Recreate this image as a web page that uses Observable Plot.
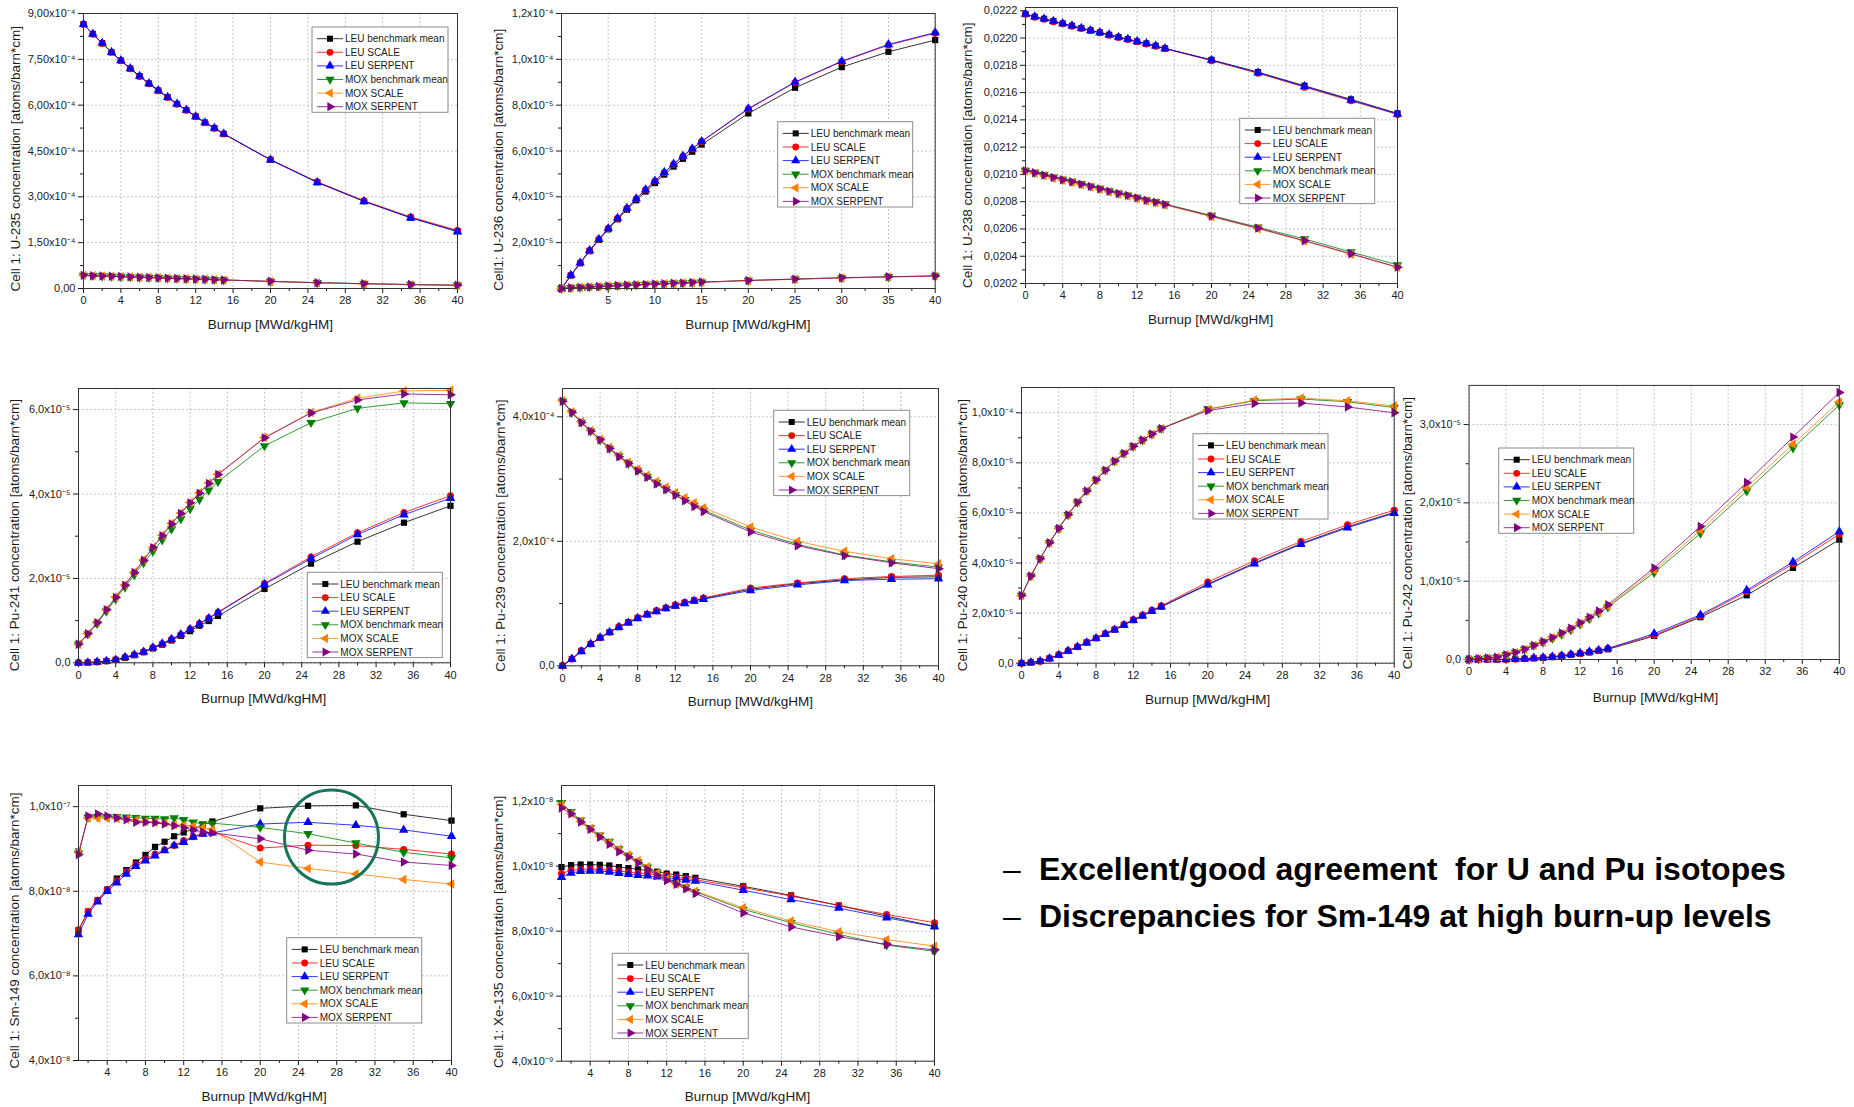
<!DOCTYPE html>
<html><head><meta charset="utf-8">
<script src="https://cdn.jsdelivr.net/npm/d3@7"></script>
<script src="https://cdn.jsdelivr.net/npm/@observablehq/plot@0.6"></script>
<style>
body{margin:0;background:#fff;}
#page{position:relative;width:1854px;height:1107px;overflow:hidden;background:#fff;font-family:"Liberation Sans",Arial,sans-serif;}
.panel{position:absolute;}
</style></head><body><div id="page"></div>
<script>
// ---------- shared data ----------
const burnup = [0,1,2,3,4,5,6,7,8,9,10,11,12,13,14,15,20,25,30,35,40];
const burnupFrom1 = [1,2,3,4,5,6,7,8,9,10,11,12,13,14,15,20,25,30,35,40];
const seriesNames = ["LEU benchmark mean","LEU SCALE","LEU SERPENT","MOX benchmark mean","MOX SCALE","MOX SERPENT"];
const seriesColors = ["#000000","#ff0000","#0000ff","#008000","#ff8000","#800080"];
const xLabel = "Burnup [MWd/kgHM]";

// U-235 (x1e-4)
const U235_LEU_BENCH = [8.65,8.33,8.03,7.73,7.46,7.20,6.95,6.71,6.48,6.26,6.04,5.84,5.63,5.43,5.25,5.06,4.21,3.48,2.86,2.32,1.88];
const U235_LEU_SCALE = [8.65,8.32,8.02,7.73,7.45,7.19,6.94,6.70,6.47,6.25,6.03,5.83,5.62,5.43,5.24,5.06,4.22,3.49,2.87,2.34,1.90];
const U235_LEU_SERPENT = [8.65,8.33,8.03,7.73,7.46,7.20,6.95,6.71,6.48,6.26,6.04,5.84,5.63,5.43,5.25,5.06,4.21,3.47,2.85,2.31,1.86];
const U235_MOX_BENCH = [0.43,0.42,0.41,0.40,0.39,0.38,0.37,0.36,0.35,0.34,0.33,0.32,0.31,0.30,0.29,0.28,0.23,0.19,0.155,0.13,0.105];
const U235_MOX_SCALE = [0.43,0.42,0.41,0.40,0.39,0.38,0.37,0.36,0.35,0.34,0.33,0.32,0.31,0.30,0.29,0.28,0.23,0.185,0.15,0.125,0.10];
const U235_MOX_SERPENT = [0.43,0.42,0.41,0.40,0.39,0.38,0.37,0.36,0.35,0.34,0.33,0.32,0.31,0.30,0.29,0.28,0.235,0.19,0.16,0.13,0.11];

// U-236 (x1e-5)
const U236_LEU_BENCH = [0,0.57,1.10,1.63,2.12,2.58,3.02,3.44,3.85,4.23,4.60,4.97,5.32,5.66,5.97,6.28,7.64,8.76,9.66,10.33,10.84];
const U236_LEU_SCALE = [0,0.58,1.12,1.66,2.15,2.62,3.07,3.50,3.92,4.31,4.69,5.06,5.42,5.77,6.09,6.41,7.83,8.99,9.90,10.62,11.14];
const U236_LEU_SERPENT = [0,0.58,1.12,1.66,2.15,2.62,3.07,3.50,3.92,4.31,4.69,5.07,5.43,5.78,6.10,6.42,7.85,9.01,9.92,10.65,11.17];
const U236_MOX_BENCH = [0,0.03,0.05,0.07,0.09,0.11,0.13,0.14,0.16,0.18,0.19,0.21,0.23,0.24,0.26,0.27,0.35,0.41,0.46,0.51,0.55];
const U236_MOX_SCALE = [0,0.03,0.05,0.07,0.09,0.11,0.12,0.14,0.16,0.17,0.19,0.21,0.22,0.24,0.25,0.27,0.34,0.40,0.46,0.50,0.54];
const U236_MOX_SERPENT = [0,0.03,0.05,0.07,0.09,0.11,0.13,0.15,0.16,0.18,0.20,0.21,0.23,0.24,0.26,0.28,0.35,0.41,0.47,0.51,0.55];

// U-238 (atoms/barn*cm)
const U238_LEU_BENCH = [0.022176,0.022156,0.022141,0.022124,0.022107,0.022090,0.022073,0.022056,0.022041,0.022024,0.022007,0.021992,0.021975,0.021960,0.021943,0.021924,0.021840,0.021750,0.021650,0.021550,0.021448];
const U238_LEU_SCALE = [0.022174,0.022152,0.022138,0.022120,0.022104,0.022087,0.022070,0.022053,0.022038,0.022021,0.022004,0.021989,0.021972,0.021957,0.021940,0.021922,0.021834,0.021742,0.021640,0.021540,0.021440];
const U238_LEU_SERPENT = [0.022176,0.022156,0.022141,0.022124,0.022107,0.022090,0.022073,0.022056,0.022041,0.022024,0.022007,0.021992,0.021975,0.021960,0.021943,0.021924,0.021838,0.021746,0.021645,0.021545,0.021443];
const U238_MOX_BENCH = [0.021028,0.021014,0.020997,0.020980,0.020963,0.020948,0.020931,0.020914,0.020896,0.020879,0.020862,0.020848,0.020830,0.020813,0.020799,0.020783,0.020698,0.020612,0.020527,0.020431,0.020336];
const U238_MOX_SCALE = [0.021024,0.021008,0.020991,0.020974,0.020957,0.020942,0.020925,0.020908,0.020890,0.020873,0.020856,0.020842,0.020824,0.020807,0.020793,0.020776,0.020690,0.020602,0.020511,0.020415,0.020318];
const U238_MOX_SERPENT = [0.021026,0.021012,0.020995,0.020978,0.020961,0.020946,0.020929,0.020912,0.020894,0.020877,0.020860,0.020846,0.020828,0.020811,0.020797,0.020780,0.020694,0.020606,0.020514,0.020418,0.020320];

// Pu-241 (x1e-5)
const PU241_LEU_BENCH = [0,0.005,0.02,0.04,0.07,0.12,0.18,0.25,0.34,0.43,0.53,0.64,0.75,0.88,0.99,1.11,1.75,2.35,2.87,3.32,3.72];
const PU241_LEU_SCALE = [0,0.005,0.02,0.04,0.07,0.13,0.19,0.26,0.36,0.45,0.56,0.67,0.80,0.93,1.06,1.20,1.88,2.51,3.08,3.56,3.96];
const PU241_LEU_SERPENT = [0,0.005,0.02,0.04,0.07,0.13,0.19,0.26,0.36,0.45,0.56,0.67,0.79,0.92,1.05,1.19,1.86,2.47,3.04,3.51,3.90];
const PU241_MOX_BENCH = [0.44,0.68,0.93,1.22,1.51,1.79,2.08,2.37,2.64,2.91,3.17,3.41,3.65,3.87,4.09,4.29,5.14,5.69,6.03,6.16,6.14];
const PU241_MOX_SCALE = [0.44,0.69,0.95,1.26,1.56,1.85,2.15,2.44,2.74,3.02,3.30,3.55,3.80,4.03,4.26,4.47,5.34,5.93,6.27,6.44,6.46];
const PU241_MOX_SERPENT = [0.44,0.69,0.95,1.26,1.55,1.84,2.14,2.43,2.73,3.01,3.29,3.54,3.79,4.02,4.25,4.46,5.33,5.92,6.23,6.37,6.35];

// Pu-239 (x1e-4)
const PU239_LEU_BENCH = [0,0.11,0.24,0.35,0.45,0.54,0.62,0.70,0.77,0.83,0.88,0.93,0.97,1.01,1.05,1.08,1.23,1.32,1.38,1.42,1.43];
const PU239_LEU_SCALE = [0,0.11,0.24,0.35,0.45,0.54,0.63,0.70,0.77,0.83,0.89,0.93,0.98,1.02,1.05,1.09,1.25,1.33,1.40,1.435,1.455];
const PU239_LEU_SERPENT = [0,0.11,0.23,0.35,0.45,0.54,0.62,0.69,0.76,0.82,0.87,0.92,0.96,1.00,1.04,1.07,1.21,1.30,1.37,1.39,1.40];
const PU239_MOX_BENCH = [4.25,4.07,3.91,3.77,3.63,3.49,3.37,3.25,3.14,3.04,2.94,2.84,2.75,2.67,2.58,2.50,2.18,1.95,1.78,1.67,1.585];
const PU239_MOX_SCALE = [4.26,4.08,3.92,3.78,3.64,3.51,3.38,3.27,3.16,3.06,2.96,2.87,2.78,2.70,2.62,2.54,2.23,2.00,1.84,1.72,1.64];
const PU239_MOX_SERPENT = [4.25,4.07,3.91,3.77,3.63,3.49,3.36,3.25,3.13,3.03,2.92,2.83,2.74,2.65,2.56,2.48,2.15,1.93,1.77,1.655,1.56];

// Pu-240 (x1e-5)
const PU240_LEU_BENCH = [0,0.03,0.08,0.19,0.33,0.49,0.65,0.83,1.00,1.17,1.34,1.53,1.72,1.90,2.09,2.26,3.16,4.00,4.78,5.45,6.02];
const PU240_LEU_SCALE = [0,0.03,0.08,0.19,0.34,0.50,0.66,0.84,1.01,1.19,1.36,1.55,1.74,1.92,2.11,2.29,3.24,4.09,4.86,5.53,6.11];
const PU240_LEU_SERPENT = [0,0.03,0.08,0.19,0.33,0.49,0.65,0.82,0.99,1.16,1.33,1.52,1.71,1.89,2.08,2.25,3.13,3.97,4.75,5.41,5.99];
const PU240_MOX_BENCH = [2.70,3.48,4.17,4.81,5.38,5.93,6.43,6.88,7.32,7.71,8.07,8.38,8.66,8.91,9.15,9.37,10.15,10.48,10.55,10.44,10.21];
const PU240_MOX_SCALE = [2.70,3.48,4.17,4.81,5.38,5.93,6.43,6.88,7.31,7.70,8.06,8.37,8.65,8.90,9.14,9.36,10.13,10.51,10.59,10.48,10.27];
const PU240_MOX_SERPENT = [2.70,3.48,4.17,4.81,5.38,5.93,6.43,6.88,7.32,7.71,8.07,8.38,8.66,8.91,9.15,9.37,10.09,10.37,10.39,10.23,10.00];

// Pu-242 (x1e-5)
const PU242_LEU_BENCH = [0,0,0,0,0,0.005,0.01,0.015,0.02,0.03,0.045,0.06,0.075,0.09,0.11,0.13,0.30,0.54,0.82,1.17,1.53];
const PU242_LEU_SCALE = [0,0,0,0,0,0.005,0.01,0.02,0.025,0.035,0.05,0.065,0.08,0.095,0.115,0.14,0.31,0.555,0.865,1.22,1.60];
const PU242_LEU_SERPENT = [0,0,0,0,0.002,0.005,0.01,0.02,0.025,0.035,0.05,0.065,0.08,0.10,0.12,0.14,0.33,0.57,0.885,1.245,1.635];
const PU242_MOX_BENCH = [0,0.01,0.02,0.03,0.06,0.09,0.13,0.18,0.22,0.27,0.32,0.38,0.45,0.52,0.59,0.67,1.11,1.61,2.15,2.70,3.25];
const PU242_MOX_SCALE = [0,0.01,0.02,0.03,0.06,0.09,0.13,0.18,0.22,0.28,0.33,0.39,0.46,0.53,0.60,0.68,1.14,1.65,2.20,2.75,3.29];
const PU242_MOX_SERPENT = [0,0.01,0.02,0.03,0.06,0.09,0.13,0.18,0.23,0.28,0.34,0.40,0.47,0.54,0.62,0.70,1.17,1.70,2.26,2.84,3.41];

// Sm-149 (x1e-8), burnup from 1
const SM149_LEU_BENCH = [7.08,7.52,7.79,8.04,8.30,8.50,8.68,8.86,9.05,9.17,9.30,9.39,9.47,9.57,9.65,9.96,10.02,10.03,9.82,9.67];
const SM149_LEU_SCALE = [7.09,7.52,7.79,8.04,8.25,8.46,8.63,8.76,8.88,8.98,9.08,9.20,9.29,9.37,9.40,9.02,9.09,9.08,8.99,8.88];
const SM149_LEU_SERPENT = [6.98,7.46,7.75,8.00,8.20,8.41,8.59,8.72,8.84,8.96,9.08,9.16,9.28,9.35,9.38,9.59,9.63,9.56,9.45,9.30];
const SM149_MOX_BENCH = [8.90,9.75,9.76,9.76,9.76,9.75,9.74,9.72,9.72,9.71,9.73,9.69,9.63,9.59,9.61,9.51,9.36,9.14,8.92,8.79];
const SM149_MOX_SCALE = [8.92,9.73,9.73,9.73,9.72,9.70,9.68,9.65,9.63,9.61,9.57,9.56,9.54,9.50,9.46,8.69,8.54,8.41,8.28,8.17];
const SM149_MOX_SERPENT = [8.87,9.78,9.83,9.78,9.73,9.69,9.63,9.63,9.62,9.59,9.55,9.50,9.45,9.40,9.38,9.24,8.97,8.88,8.69,8.61];
const SM149_HIGHLIGHT = [{x: 27.45, y: 9.28}];

// Xe-135 (x1e-9), burnup from 1
const XE135_LEU_BENCH = [9.97,10.03,10.05,10.05,10.04,10.02,9.97,9.94,9.90,9.87,9.83,9.77,9.74,9.69,9.64,9.38,9.10,8.79,8.46,8.15];
const XE135_LEU_SCALE = [9.77,9.87,9.90,9.91,9.90,9.87,9.85,9.82,9.78,9.76,9.74,9.71,9.66,9.62,9.58,9.34,9.08,8.79,8.51,8.26];
const XE135_LEU_SERPENT = [9.66,9.79,9.84,9.85,9.85,9.82,9.78,9.75,9.72,9.70,9.67,9.64,9.61,9.57,9.54,9.26,8.97,8.71,8.41,8.14];
const XE135_MOX_BENCH = [11.95,11.67,11.41,11.18,10.95,10.76,10.53,10.33,10.13,9.97,9.79,9.62,9.47,9.35,9.21,8.67,8.26,7.90,7.57,7.38];
const XE135_MOX_SCALE = [11.90,11.62,11.38,11.16,10.92,10.72,10.53,10.34,10.17,9.98,9.79,9.60,9.45,9.36,9.23,8.72,8.31,7.98,7.74,7.54];
const XE135_MOX_SERPENT = [11.79,11.61,11.36,11.13,10.89,10.67,10.44,10.28,10.10,9.90,9.71,9.56,9.44,9.30,9.16,8.56,8.13,7.83,7.59,7.42];

// tick values
const X_TICKS_4 = [0,4,8,12,16,20,24,28,32,36,40];
const X_MINOR_4 = [2,6,10,14,18,22,26,30,34,38];
const X_TICKS_4B = [4,8,12,16,20,24,28,32,36,40];
const X_TICKS_5 = [5,10,15,20,25,30,35,40];
const X_MINOR_5 = [2.5,7.5,12.5,17.5,22.5,27.5,32.5,37.5];
const Y_U235 = [0,1.5,3,4.5,6,7.5,9], Y_U235_MINOR = [0.75,2.25,3.75,5.25,6.75,8.25];
const Y_U236 = [2,4,6,8,10,12], Y_U236_MINOR = [1,3,5,7,9,11];
const Y_U238 = [0.0202,0.0204,0.0206,0.0208,0.0210,0.0212,0.0214,0.0216,0.0218,0.0220,0.0222];
const Y_U238_MINOR = [0.0203,0.0205,0.0207,0.0209,0.0211,0.0213,0.0215,0.0217,0.0219,0.0221];
const Y_PU241 = [0,2,4,6], Y_PU241_MINOR = [1,3,5];
const Y_PU239 = [0,2,4], Y_PU239_MINOR = [1,3];
const Y_PU240 = [0,2,4,6,8,10], Y_PU240_MINOR = [1,3,5,7,9];
const Y_PU242 = [0,1,2,3], Y_PU242_MINOR = [0.5,1.5,2.5];
const Y_SM149 = [4,6,8,10], Y_SM149_MINOR = [5,7,9];
const Y_XE135 = [4,6,8,10,12], Y_XE135_MINOR = [5,7,9,11];

// ---------- symbols ----------
const S3 = Math.sqrt(3);
const triDown = {draw(c, size){const y=-Math.sqrt(size/(S3*3)); c.moveTo(0,-2*y); c.lineTo(-S3*y,y); c.lineTo(S3*y,y); c.closePath();}};
const triLeft = {draw(c, size){const y=-Math.sqrt(size/(S3*3)); c.moveTo(2*y,0); c.lineTo(-y,-S3*y); c.lineTo(-y,S3*y); c.closePath();}};
const triRight = {draw(c, size){const y=-Math.sqrt(size/(S3*3)); c.moveTo(-2*y,0); c.lineTo(y,-S3*y); c.lineTo(y,S3*y); c.closePath();}};
const seriesSymbols = [d3.symbolSquare, d3.symbolCircle, d3.symbolTriangle, triDown, triLeft, triRight];

// ---------- formatting ----------
const SUP = {"-":"⁻","0":"⁰","1":"¹","2":"²","3":"³","4":"⁴","5":"⁵","6":"⁶","7":"⁷","8":"⁸","9":"⁹"};
function sciFmt(unit, dec){
  return v => {
    if (Math.abs(v) < 1e-12) return dec === 2 ? "0,00" : "0,0";
    const real = v*unit;
    const e = Math.floor(Math.log10(real) + 1e-9);
    const m = real/Math.pow(10, e);
    return m.toFixed(dec).replace(".", ",") + "x10" + String(e).split("").map(c => SUP[c]).join("");
  };
}
const plainFmt = v => v.toFixed(4).replace(".", ",");

// ---------- panels ----------
const panels = [
 {xs: burnup, series:[U235_LEU_BENCH,U235_LEU_SCALE,U235_LEU_SERPENT,U235_MOX_BENCH,U235_MOX_SCALE,U235_MOX_SERPENT],
  frame:[83.3,13.3,457.3,288.3], xdom:[0,40], ydom:[0,9], fmt:sciFmt(1e-4,2), yt:Y_U235, ym:Y_U235_MINOR, xt:X_TICKS_4, xm:X_MINOR_4,
  ylabel:"Cell 1: U-235 concentration [atoms/barn*cm]", ldx:-68, ldy:8, xly:36, legend:[312,27,136]},
 {xs: burnup, series:[U236_LEU_BENCH,U236_LEU_SCALE,U236_LEU_SERPENT,U236_MOX_BENCH,U236_MOX_SCALE,U236_MOX_SERPENT],
  frame:[561,13.3,934.7,288.3], xdom:[0,40], ydom:[0,12], fmt:sciFmt(1e-5,1), yt:Y_U236, ym:Y_U236_MINOR, xt:X_TICKS_5, xm:X_MINOR_5,
  ylabel:"Cell1: U-236 concentration [atoms/barn*cm]", ldx:-63, ldy:9, xly:36, legend:[777.7,121.7,135]},
 {xs: burnup, series:[U238_LEU_BENCH,U238_LEU_SCALE,U238_LEU_SERPENT,U238_MOX_BENCH,U238_MOX_SCALE,U238_MOX_SERPENT],
  frame:[1024.7,7.3,1396.7,283.3], xdom:[0,40], ydom:[0.0202,0.022224], fmt:plainFmt, yt:Y_U238, ym:Y_U238_MINOR, xt:X_TICKS_4, xm:X_MINOR_4,
  ylabel:"Cell 1: U-238 concentration [atoms/barn*cm]", ldx:-57, ldy:10, xly:36, legend:[1239.7,118.3,135]},
 {xs: burnup, series:[PU241_LEU_BENCH,PU241_LEU_SCALE,PU241_LEU_SERPENT,PU241_MOX_BENCH,PU241_MOX_SCALE,PU241_MOX_SERPENT],
  frame:[77.7,388,449.7,662.3], xdom:[0,40], ydom:[0,6.5], fmt:sciFmt(1e-5,1), yt:Y_PU241, ym:Y_PU241_MINOR, xt:X_TICKS_4, xm:X_MINOR_4,
  ylabel:"Cell 1: Pu-241 concentration [atoms/barn*cm]", ldx:-63, ldy:10, xly:36, legend:[307.3,572.3,135]},
 {xs: burnup, series:[PU239_LEU_BENCH,PU239_LEU_SCALE,PU239_LEU_SERPENT,PU239_MOX_BENCH,PU239_MOX_SCALE,PU239_MOX_SERPENT],
  frame:[562.3,388,938.3,665.3], xdom:[0,40], ydom:[0,4.455], fmt:sciFmt(1e-4,1), yt:Y_PU239, ym:Y_PU239_MINOR, xt:X_TICKS_4, xm:X_MINOR_4,
  ylabel:"Cell 1: Pu-239 concentration [atoms/barn*cm]", ldx:-62, ldy:9, xly:36, legend:[773.7,410.3,136]},
 {xs: burnup, series:[PU240_LEU_BENCH,PU240_LEU_SCALE,PU240_LEU_SERPENT,PU240_MOX_BENCH,PU240_MOX_SCALE,PU240_MOX_SERPENT],
  frame:[1021.3,387.3,1394,663], xdom:[0,40], ydom:[0,11.01], fmt:sciFmt(1e-5,1), yt:Y_PU240, ym:Y_PU240_MINOR, xt:X_TICKS_4, xm:X_MINOR_4,
  ylabel:"Cell 1: Pu-240 concentration [atoms/barn*cm]", ldx:-59, ldy:10, xly:36, legend:[1193,433.7,135]},
 {xs: burnup, series:[PU242_LEU_BENCH,PU242_LEU_SCALE,PU242_LEU_SERPENT,PU242_MOX_BENCH,PU242_MOX_SCALE,PU242_MOX_SERPENT],
  frame:[1469.3,385.3,1841.7,661], xdom:[0,40], ydom:[0,3.5], fmt:sciFmt(1e-5,1), yt:Y_PU242, ym:Y_PU242_MINOR, xt:X_TICKS_4, xm:X_MINOR_4,
  ylabel:"Cell 1: Pu-242 concentration [atoms/barn*cm]", ldx:-62, ldy:10, xly:36, legend:[1498.7,448,135]},
 {xs: burnupFrom1, series:[SM149_LEU_BENCH,SM149_LEU_SCALE,SM149_LEU_SERPENT,SM149_MOX_BENCH,SM149_MOX_SCALE,SM149_MOX_SERPENT],
  frame:[77.7,785,450.7,1060], xdom:[1,40], ydom:[4,10.5], fmt:sciFmt(1e-8,1), yt:Y_SM149, ym:Y_SM149_MINOR, xt:X_TICKS_4B, xm:X_MINOR_4,
  ylabel:"Cell 1: Sm-149 concentration [atoms/barn*cm]", ldx:-63, ldy:8, xly:36, legend:[286.7,937.7,135], highlight: SM149_HIGHLIGHT},
 {xs: burnupFrom1, series:[XE135_LEU_BENCH,XE135_LEU_SCALE,XE135_LEU_SERPENT,XE135_MOX_BENCH,XE135_MOX_SCALE,XE135_MOX_SERPENT],
  frame:[561,785,934,1060.7], xdom:[1,40], ydom:[4,12.48], fmt:sciFmt(1e-9,1), yt:Y_XE135, ym:Y_XE135_MINOR, xt:X_TICKS_4B, xm:X_MINOR_4,
  ylabel:"Cell 1: Xe-135 concentration [atoms/barn*cm]", ldx:-63, ldy:9, xly:36, legend:[612.3,953.3,136]}
];

const page = document.getElementById("page");
const ML = 80, MR = 15, MT = 15, MB = 48;
const FONT = "Liberation Sans, Arial, Helvetica, sans-serif";
const gridStyle = {stroke:"#c4c4c4", strokeOpacity:1, strokeDasharray:"2,2", strokeWidth:1};

panels.forEach(p => {
  const [L,T,R,B] = p.frame;
  const marks = [
    Plot.gridX(p.xt, gridStyle),
    Plot.gridY(p.yt, gridStyle),
    Plot.axisX(p.xt, {tickSize:5, tickPadding:3, tickFormat: d => String(d), label:null}),
    Plot.axisX(p.xm, {tickSize:3, tickFormat: () => "", label:null}),
    Plot.axisY(p.yt, {tickSize:5, tickPadding:3, tickFormat: p.fmt, label:null}),
    Plot.axisY(p.ym, {tickSize:3, tickFormat: () => "", label:null})
  ];
  p.series.forEach((vals, i) => {
    const data = p.xs.map((x, j) => ({x, y: vals[j]}));
    marks.push(Plot.line(data, {x:"x", y:"y", stroke: seriesColors[i], strokeWidth:1, strokeOpacity:0.8}));
    marks.push(Plot.dot(data, {x:"x", y:"y", symbol: seriesSymbols[i], r:3.5, fill: seriesColors[i]}));
  });
  if (p.highlight) marks.push(Plot.dot(p.highlight, {x:"x", y:"y", r:47, fill:"none", stroke:"#18735d", strokeWidth:3}));
  marks.push(Plot.frame({stroke:"#333"}));
  const svg = Plot.plot({
    width: (R-L)+ML+MR, height: (B-T)+MT+MB,
    marginLeft: ML, marginRight: MR, marginTop: MT, marginBottom: MB,
    x: {domain: p.xdom}, y: {domain: p.ydom},
    style: {background:"transparent", overflow:"visible", fontFamily: FONT, fontSize:"11px", color:"#1a1a1a"},
    marks
  });
  const wrap = document.createElement("div");
  wrap.className = "panel";
  wrap.style.left = (L-ML) + "px";
  wrap.style.top = (T-MT) + "px";
  wrap.appendChild(svg);
  page.appendChild(wrap);
});

// ---------- overlay: axis titles, legends and bullet text ----------
const ov = d3.create("svg").attr("width",1854).attr("height",1107)
  .style("position","absolute").style("left","0px").style("top","0px").style("font-family", FONT);
panels.forEach(p => {
  const [L,T,R,B] = p.frame;
  ov.append("text").attr("transform", `translate(${L + p.ldx},${(T+B)/2 + p.ldy}) rotate(-90)`)
    .attr("text-anchor","middle").attr("dy","0.35em").attr("font-size",13.5).attr("fill","#1a1a1a").text(p.ylabel);
  ov.append("text").attr("x",(L+R)/2).attr("y",B + p.xly).attr("text-anchor","middle").attr("dy","0.35em")
    .attr("font-size",13.5).attr("fill","#1a1a1a").text(xLabel);
  const [lx, ly, lw] = p.legend;
  const g = ov.append("g");
  g.append("rect").attr("x",lx).attr("y",ly).attr("width",lw).attr("height",85.3)
    .attr("fill","#fff").attr("stroke","#8c8c8c").attr("stroke-width",1);
  seriesNames.forEach((name, i) => {
    const cy = ly + 11.7 + i*13.6;
    g.append("line").attr("x1",lx+5).attr("x2",lx+31).attr("y1",cy).attr("y2",cy)
      .attr("stroke",seriesColors[i]).attr("stroke-width",1).attr("stroke-opacity",0.8);
    g.append("path").attr("d", d3.symbol(seriesSymbols[i], Math.PI*3.4*3.4)())
      .attr("transform",`translate(${lx+18},${cy})`).attr("fill",seriesColors[i]);
    g.append("text").attr("x",lx+33).attr("y",cy).attr("dy","0.35em")
      .attr("font-size",10).attr("fill","#1a1a1a").text(name);
  });
});
const bullets = ["Excellent/good agreement  for U and Pu isotopes", "Discrepancies for Sm-149 at high burn-up levels"];
bullets.forEach((t, i) => {
  const by = 880 + i*47.3;
  ov.append("text").attr("x",1003).attr("y",by).attr("font-size",32).attr("fill","#000").text("–");
  ov.append("text").attr("x",1039).attr("y",by).attr("font-size",32).attr("font-weight","bold")
    .attr("fill","#000").style("white-space","pre").attr("xml:space","preserve").text(t);
});
page.appendChild(ov.node());
</script></body></html>
